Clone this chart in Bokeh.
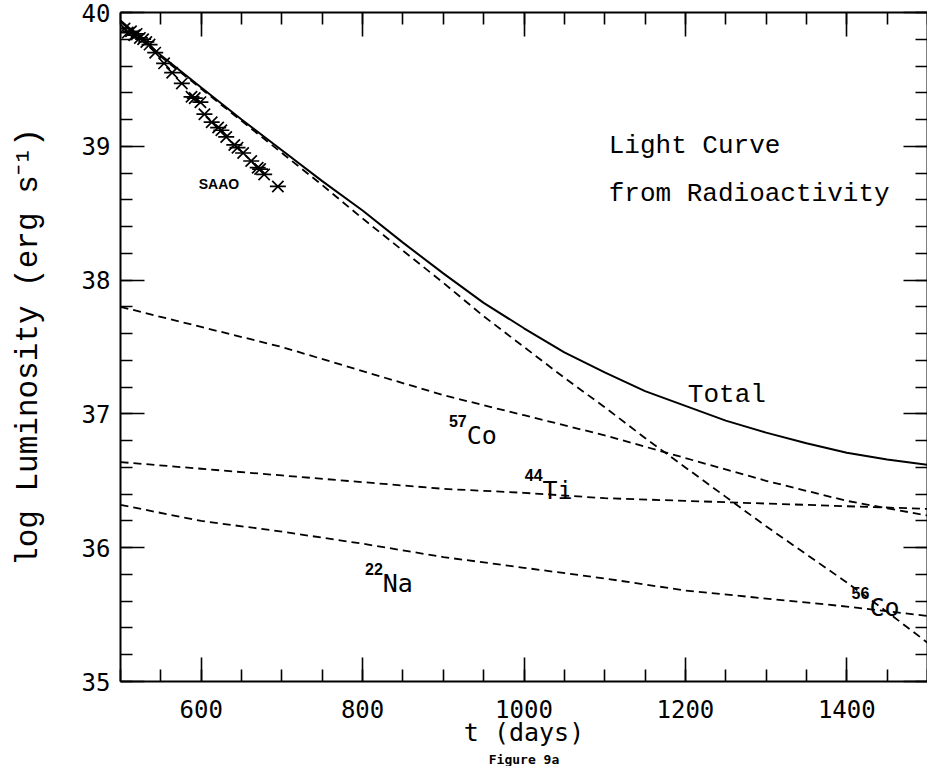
from bokeh.plotting import figure
from bokeh.models import (LinearAxis, SingleIntervalTicker, Label, Range1d, Title,
                          ColumnDataSource, CustomJSTickFormatter)
from bokeh.embed import file_html
from bokeh.resources import INLINE

# ---- data ----
t_days = [500, 550, 600, 650, 700, 750, 800, 850, 900, 950, 1000, 1050, 1100,
          1150, 1200, 1250, 1300, 1350, 1400, 1450, 1500]
total = [39.94, 39.68, 39.44, 39.20, 38.97, 38.74, 38.52, 38.28, 38.05, 37.83, 37.64,
         37.46, 37.31, 37.17, 37.06, 36.95, 36.86, 36.78, 36.71, 36.66, 36.62]
co56 = [39.93, 39.67, 39.43, 39.19, 38.95, 38.71, 38.46, 38.22, 37.98, 37.73, 37.50,
        37.27, 37.05, 36.82, 36.60, 36.38, 36.16, 35.95, 35.74, 35.52, 35.29]

t_iso = [500, 600, 700, 800, 900, 1000, 1100, 1200, 1300, 1400, 1500]
co57 = [37.80, 37.65, 37.50, 37.32, 37.14, 36.99, 36.84, 36.67, 36.50, 36.35, 36.24]
ti44 = [36.64, 36.59, 36.54, 36.49, 36.44, 36.41, 36.37, 36.35, 36.33, 36.31, 36.29]
na22 = [36.32, 36.20, 36.12, 36.03, 35.93, 35.85, 35.77, 35.68, 35.62, 35.56, 35.49]

saao_t = [505, 509, 513, 517, 520, 524, 528, 532, 536, 543, 554, 564, 576, 588, 592,
          599, 604, 613, 621, 625, 631, 641, 645, 652, 662, 670, 673, 678, 695]
saao_L = [39.88, 39.85, 39.86, 39.83, 39.84, 39.81, 39.80, 39.78, 39.76, 39.70, 39.62,
          39.55, 39.47, 39.37, 39.36, 39.33, 39.24, 39.18, 39.14, 39.12, 39.07, 39.01,
          38.99, 38.95, 38.89, 38.84, 38.83, 38.79, 38.70]

x_label = "t (days)"
y_label = "log Luminosity (erg s\u207b\u00b9)"
caption = "Figure 9a"

MONO = "Liberation Mono"
HERSHEY = "DejaVu Sans Mono"

p = figure(width=927, height=766, x_range=Range1d(500, 1500), y_range=Range1d(35, 40),
           output_backend="svg", toolbar_location=None,
           min_border_left=120, min_border_right=0, min_border_top=12, min_border_bottom=80,
           x_axis_label=x_label, y_axis_label=y_label)
p.xgrid.visible = False
p.ygrid.visible = False
p.outline_line_color = None
p.background_fill_color = "white"
p.border_fill_color = "white"

def style_axis(ax, labels=True):
    ax.axis_line_width = 2
    ax.axis_line_color = "black"
    ax.major_tick_in = 24
    ax.major_tick_out = 0
    ax.minor_tick_in = 12
    ax.minor_tick_out = 0
    ax.major_tick_line_width = 1.6
    ax.minor_tick_line_width = 1.6
    ax.major_tick_line_color = "black"
    ax.minor_tick_line_color = "black"
    if labels:
        ax.major_label_text_font = HERSHEY
        ax.major_label_text_font_size = "24px"
        ax.major_label_text_color = "black"
    else:
        ax.formatter = CustomJSTickFormatter(code="return ''")
        ax.major_label_standoff = 0
        ax.axis_label = None

p.xaxis.ticker = SingleIntervalTicker(interval=200, num_minor_ticks=4)
p.yaxis.ticker = SingleIntervalTicker(interval=1, num_minor_ticks=5)
style_axis(p.xaxis[0])
style_axis(p.yaxis[0])
p.xaxis.major_label_standoff = 18
p.yaxis.major_label_standoff = 10
p.xaxis.axis_label_text_font = HERSHEY
p.xaxis.axis_label_text_font_size = "25px"
p.xaxis.axis_label_text_font_style = "normal"
p.xaxis.axis_label_text_color = "black"
p.xaxis.axis_label_standoff = -3
p.yaxis.axis_label_text_font = MONO
p.yaxis.axis_label_text_font_size = "31px"
p.yaxis.axis_label_text_font_style = "normal"
p.yaxis.axis_label_text_color = "black"
p.yaxis.axis_label_standoff = 33

top = LinearAxis(ticker=SingleIntervalTicker(interval=200, num_minor_ticks=4))
style_axis(top, labels=False)
p.add_layout(top, "above")
right = LinearAxis(ticker=SingleIntervalTicker(interval=1, num_minor_ticks=5))
style_axis(right, labels=False)
p.add_layout(right, "right")

# ---- curves ----
p.line(t_days, total, line_color="black", line_width=2)
dash = "8 5"
p.line(t_days, co56, line_color="black", line_width=1.8, line_dash=dash)
p.line(t_iso, co57, line_color="black", line_width=1.8, line_dash=dash)
p.line(t_iso, ti44, line_color="black", line_width=1.8, line_dash=dash)
p.line(t_iso, na22, line_color="black", line_width=1.8, line_dash=dash)

src = ColumnDataSource(dict(t=saao_t, L=saao_L))
p.scatter("t", "L", source=src, marker="x", size=16, line_width=1.7, line_color="black")
p.scatter("t", "L", source=src, marker="dash", size=16, line_width=1.7, line_color="black")

# ---- annotations ----
def lab(x, y, text, font, size, style="normal", align="left", baseline="alphabetic"):
    p.add_layout(Label(x=x, y=y, text=text, text_font=font, text_font_size=size,
                       text_font_style=style, text_align=align,
                       text_baseline=baseline, text_color="black"))

lab(1105, 39.0, "Light Curve", MONO, "26px")
lab(1105, 38.645, "from Radioactivity", MONO, "26px")
lab(1203, 37.14, "Total", MONO, "26px")
lab(597, 38.72, "SAAO", "Liberation Sans", "14px", "bold")

iso = [("57", "Co", 929, 36.84), ("44", "Ti", 1023, 36.43),
       ("22", "Na", 825, 35.73), ("56", "Co", 1428, 35.55)]
for sup, sym, x, y in iso:
    lab(x, y, sym, HERSHEY, "25px")
    lab(x, y + 0.11, sup, "Liberation Sans", "16px", "bold", align="right")

fig_title = Title(text=caption, align="center", text_font=HERSHEY,
                  text_font_size="13px", text_font_style="bold", standoff=0,
                  text_color="black")
p.add_layout(fig_title, "below")

open("out.html", "w").write(file_html(p, INLINE))
